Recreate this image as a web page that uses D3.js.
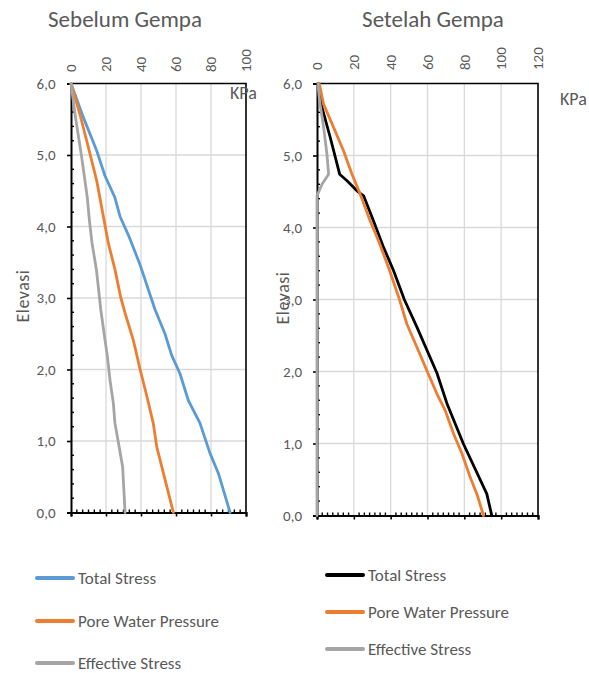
<!DOCTYPE html>
<html><head><meta charset="utf-8">
<script src="https://cdn.jsdelivr.net/npm/d3@7/dist/d3.min.js"></script>
<style>
body{margin:0;background:#fff}
svg text{font-family: Carlito, Lato, sans-serif; fill:#595959;}
</style>
</head><body>
<svg id="c" width="589" height="673"></svg>
<script>
// ---------- DATA ----------
const seriesNames = ["Total Stress", "Pore Water Pressure", "Effective Stress"];
const yTickValues = [0, 1, 2, 3, 4, 5, 6];
const xTicksBefore = [0, 20, 40, 60, 80, 100];
const xTicksAfter = [0, 20, 40, 60, 80, 100, 120];

// Sebelum Gempa (before earthquake): elevation (m) and stress (kPa)
const beforeTotalElev = [6.0, 5.53, 5.06, 4.71, 4.41, 4.14, 3.88, 3.47, 3.0, 2.84, 2.5, 2.2, 1.94, 1.57, 1.25, 0.83, 0.55, 0.0];
const beforeTotal     = [0, 7, 14.7, 19.4, 25, 28, 32.8, 39.4, 45.8, 48, 53.7, 57.5, 62.3, 67, 73.7, 79.4, 84.2, 90.9];
const beforePoreElev  = [6.0, 5.57, 5.11, 4.64, 4.14, 3.77, 3.40, 3.0, 2.79, 2.41, 2.01, 1.64, 1.25, 0.92, 0.55, 0.0];
const beforePore      = [0, 5.1, 9.9, 14.7, 18.5, 21.3, 25.1, 28.5, 30.9, 35.6, 39.4, 43.2, 47, 49, 52.8, 58.5];
const beforeEffElev   = [6.0, 5.57, 4.97, 4.41, 4.09, 3.77, 3.40, 3.0, 2.84, 2.42, 2.18, 1.85, 1.53, 1.25, 0.92, 0.64, 0.0];
const beforeEff       = [0, 2.3, 6.1, 9.3, 10.5, 12, 14.5, 16.3, 17, 19.4, 20.8, 22.3, 24.2, 25.1, 27.5, 29.5, 30.9];

// Setelah Gempa (after earthquake)
const afterTotalElev = [6.0, 5.67, 5.25, 4.74, 4.65, 4.51, 4.44, 4.09, 3.72, 3.40, 3.0, 2.62, 1.98, 1.56, 0.99, 0.30, 0.0];
const afterTotal     = [0.5, 2.7, 7.2, 12.3, 16.3, 21.7, 25.3, 30.7, 36.2, 41.6, 47.4, 54.2, 65.1, 70.5, 79.6, 92.2, 94.9];
const afterPoreElev  = [6.0, 5.71, 5.39, 5.06, 4.74, 4.46, 4.09, 3.81, 3.44, 3.0, 2.66, 2.34, 2.01, 1.69, 1.46, 1.14, 0.86, 0.53, 0.30, 0.0];
const afterPore      = [1.2, 3.6, 9, 14.5, 19, 23.5, 28.9, 33.5, 38.9, 44.8, 48.8, 54.2, 59.7, 65.1, 69.6, 74.1, 78.7, 83.2, 86.8, 90.4];
const afterEffElev   = [6.0, 5.76, 5.39, 5.02, 4.74, 4.60, 4.44, 0.0];
const afterEff       = [0.5, 1.4, 3.6, 5.4, 6.3, 2.7, 0, 0];

// ---------- LAYOUT ----------
const svg = d3.select("#c");
const zip = (e, v) => e.map((el, i) => ({elev: el, val: v[i]}));

const panels = [
  {
    title: "Sebelum Gempa", titleX: 125, titleY: 27,
    xr: [71, 246], yr: [512.5, 83.5], xmax: 100, xticks: xTicksBefore, minorPerMajor: 6,
    kpa: [230, 99], elev: [29, 296], yLabelX: 55.5, topLabelY: 72,
    legendX: 37, legendY: [578, 621, 663],
    colors: ["#5b9bd5", "#ed7d31", "#a5a5a5"],
    series: [zip(beforeTotalElev, beforeTotal), zip(beforePoreElev, beforePore), zip(beforeEffElev, beforeEff)]
  },
  {
    title: "Setelah Gempa", titleX: 433, titleY: 27,
    xr: [317, 538], yr: [515.5, 83.5], xmax: 120, xticks: xTicksAfter, minorPerMajor: 7,
    kpa: [560, 105], elev: [289, 298], yLabelX: 302, topLabelY: 70,
    legendX: 327, legendY: [575, 612, 649],
    colors: ["#000000", "#ed7d31", "#a5a5a5"],
    series: [zip(afterTotalElev, afterTotal), zip(afterPoreElev, afterPore), zip(afterEffElev, afterEff)]
  }
];

panels.forEach(p => {
  const x = d3.scaleLinear().domain([0, p.xmax]).range(p.xr);
  const y = d3.scaleLinear().domain([0, 6]).range(p.yr);
  const g = svg.append("g");

  // title
  g.append("text").attr("x", p.titleX).attr("y", p.titleY)
    .attr("text-anchor", "middle").style("font-size", "23px").text(p.title);

  // gridlines
  g.append("g").selectAll("line").data(p.xticks.slice(1, -1)).join("line")
    .attr("x1", d => x(d)).attr("x2", d => x(d)).attr("y1", p.yr[1]).attr("y2", p.yr[0])
    .attr("stroke", "#d9d9d9").attr("stroke-width", 1.3);
  g.append("g").selectAll("line").data(yTickValues.slice(1, -1)).join("line")
    .attr("y1", d => y(d)).attr("y2", d => y(d)).attr("x1", p.xr[0]).attr("x2", p.xr[1])
    .attr("stroke", "#d9d9d9").attr("stroke-width", 1.3);

  // frame top & right
  g.append("path")
    .attr("d", `M${p.xr[0]},${p.yr[1]}H${p.xr[1]}V${p.yr[0]}`)
    .attr("fill", "none").attr("stroke", "#000").attr("stroke-width", 1.6);

  // left axis (major ticks out, minor in)
  const yMinor = d3.range(0, 6.0001, 0.2).filter(v => Math.abs(v - Math.round(v)) > 1e-6);
  const ly = g.append("g").attr("transform", `translate(${p.xr[0]},0)`);
  ly.call(d3.axisLeft(y).tickValues(yTickValues).tickSize(4).tickFormat(d => d3.format(".1f")(d).replace(".", ",")));
  ly.select(".domain").attr("stroke", "#000").attr("stroke-width", 2);
  ly.selectAll(".tick line").attr("stroke", "#000").attr("stroke-width", 1.6);
  ly.selectAll(".tick text").attr("x", p.yLabelX - p.xr[0]).style("font-size", "15px").attr("fill", "#595959");
  ly.append("g").selectAll("line").data(yMinor).join("line")
    .attr("x1", 0).attr("x2", 3).attr("y1", d => y(d)).attr("y2", d => y(d))
    .attr("stroke", "#000").attr("stroke-width", 1.4);

  // bottom axis (major ticks out, minor in)
  const step = 20 / p.minorPerMajor;
  const xMinor = d3.range(0, p.xmax, step).filter((v, i) => i % p.minorPerMajor !== 0);
  const bx = g.append("g").attr("transform", `translate(0,${p.yr[0]})`);
  bx.call(d3.axisBottom(x).tickValues(p.xticks).tickSize(4).tickFormat(""));
  bx.select(".domain").attr("stroke", "#000").attr("stroke-width", 2.2);
  bx.selectAll(".tick line").attr("stroke", "#000").attr("stroke-width", 1.6);
  bx.append("g").selectAll("line").data(xMinor).join("line")
    .attr("x1", d => x(d)).attr("x2", d => x(d)).attr("y1", 0).attr("y2", -3)
    .attr("stroke", "#000").attr("stroke-width", 1.4);

  // top labels (rotated)
  g.append("g").selectAll("text").data(p.xticks).join("text")
    .attr("transform", d => `translate(${x(d)},${p.topLabelY}) rotate(-90)`)
    .attr("dy", "0.35em").style("font-size", "15px").text(d => d);

  // series lines
  const line = d3.line().x(d => x(d.val)).y(d => y(d.elev));
  p.series.forEach((s, i) => {
    g.append("path").datum(s).attr("d", line)
      .attr("fill", "none").attr("stroke", p.colors[i]).attr("stroke-width", 2.8)
      .attr("stroke-linejoin", "round").attr("stroke-linecap", "round");
  });

  // KPa & Elevasi
  g.append("text").attr("x", p.kpa[0]).attr("y", p.kpa[1]).style("font-size", "18px").text("KPa");
  g.append("text").attr("transform", `translate(${p.elev[0]},${p.elev[1]}) rotate(-90)`)
    .attr("text-anchor", "middle").style("font-size", "18px").style("letter-spacing", "0.5px").text("Elevasi");

  // legend
  const lg = g.append("g");
  seriesNames.forEach((n, i) => {
    lg.append("line").attr("x1", p.legendX).attr("x2", p.legendX + 36)
      .attr("y1", p.legendY[i]).attr("y2", p.legendY[i])
      .attr("stroke", p.colors[i]).attr("stroke-width", 4).attr("stroke-linecap", "round");
    lg.append("text").attr("x", p.legendX + 41).attr("y", p.legendY[i]).attr("dy", "0.35em")
      .style("font-size", "17px").text(n);
  });
});
</script>
</body></html>
